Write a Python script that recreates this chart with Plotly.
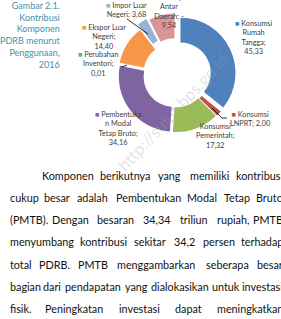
import plotly.graph_objects as go

# ---------------- data ----------------
categories = ["Konsumsi Rumah Tangga", "Konsumsi LNPRT", "Konsumsi Pemerintah",
              "Pembentukan Modal Tetap Bruto", "Perubahan Inventori",
              "Ekspor Luar Negeri", "Impor Luar Negeri", "Net Ekspor Antar Daerah"]
values = [45.33, 2.00, 17.32, 34.16, 0.01, 14.40, 3.68, -9.54]
label_names = ["Konsumsi<br>Rumah<br>Tangga;", "Konsumsi<br>LNPRT;", "Konsumsi<br>Pemerintah;",
               "Pembentuka<br>n Modal<br>Tetap Bruto;", "Perubahan<br>Inventori;",
               "Ekspor Luar<br>Negeri;", "Impor Luar<br>Negeri;", "Net Ekspor<br>Antar<br>Daerah;"]
value_sep = ["<br>", " ", "<br>", "<br>", "<br>", "<br>", " ", " "]
show_key = [True, True, False, True, True, True, True, True]

title_text = "Gambar 2.1.<br>Kontribusi<br>Komponen<br>PDRB menurut<br>Penggunaan,<br>2016"
body_lines = [
    "Komponen berikutnya yang memiliki kontribusi",
    "cukup besar adalah Pembentukan Modal Tetap Bruto",
    "(PMTB). Dengan besaran 34,34 triliun rupiah, PMTB",
    "menyumbang kontribusi sekitar 34,2 persen terhadap",
    "total PDRB. PMTB menggambarkan seberapa besar",
    "bagian dari pendapatan yang dialokasikan untuk investasi",
    "fisik. Peningkatan investasi dapat meningkatkan",
]
watermark = "http://sulut.bps.go.id"

# ---------------- style / layout ----------------
W_PX, H_PX = 281, 319
colors = ["#4F81BD", "#C0504D", "#9BBB59", "#8064A2", "#4BACC6", "#F79646", "#95B3D7", "#D99694"]
pulls = [0.09, 0.05, 0.04, 0.05, 0.04, 0.05, 0.15, 0.12]
label_pos = [(253, 37), (250, 119), (215, 136), (118, 128), (98, 64), (104, 37), (126, 10), (169, 12)]
FONT = "Lato, 'Open Sans', sans-serif"


def px(x):
    return x / W_PX


def py(y):
    return 1 - y / H_PX


# pie geometry: center & radius in pixels
cx, cy, r = 176, 75, 55
half_box = r * (1 + max(pulls))

fig = go.Figure(go.Pie(
    labels=categories,
    values=[abs(v) for v in values],
    hole=0.55,
    sort=False,
    direction="clockwise",
    rotation=0,
    pull=pulls,
    marker=dict(colors=colors, line=dict(width=0)),
    textinfo="none",
    hoverinfo="label+value",
    showlegend=False,
    domain=dict(x=[px(cx - half_box), px(cx + half_box)],
                y=[py(cy + half_box), py(cy - half_box)]),
))

annotations = []

# watermark
annotations.append(dict(x=px(172), y=py(112), xref="paper", yref="paper", text=watermark,
                        showarrow=False, textangle=-47,
                        font=dict(family=FONT, size=17, color="rgba(160,160,160,0.30)")))

# data labels
for name, v, sep, key, col, (lx, ly) in zip(label_names, values, value_sep, show_key, colors, label_pos):
    num = f"{abs(v):.2f}".replace(".", ",")
    if v < 0:
        txt = name + " -<br>" + num
    else:
        txt = name + sep + num
    if key:
        txt = f'<span style="color:{col}">■</span> ' + txt
    annotations.append(dict(x=px(lx), y=py(ly), xref="paper", yref="paper", text=txt,
                            showarrow=False, align="center", xanchor="center", yanchor="middle",
                            font=dict(family=FONT, size=7.3, color="#404040")))

# figure caption on the left
annotations.append(dict(x=px(62), y=py(35), xref="paper", yref="paper", text=title_text,
                        showarrow=False, align="right", xanchor="right", yanchor="middle",
                        font=dict(family=FONT, size=9.0, color="#3E93AE")))

# justified body text
CW = {c: 0.51 for c in "abcdefghijklmnopqrstuvwxyz"}
CW.update({"a": .51, "b": .56, "c": .46, "d": .56, "e": .52, "f": .32, "g": .5, "h": .56, "i": .24,
           "j": .24, "k": .5, "l": .24, "m": .84, "n": .56, "o": .56, "p": .56, "r": .36, "s": .42,
           "t": .34, "u": .56, "v": .5, "w": .75, "y": .5, ",": .22, ".": .22, "(": .3, ")": .3})
BODY_FS = 10.8


def tw(s):
    return sum(CW.get(c, 0.62) for c in s) * BODY_FS


x_left, x_right = 8, 284.5
for i, line in enumerate(body_lines):
    y = 175 + i * 22.3
    x0 = 40 if i == 0 else x_left
    words = line.split()
    widths = [tw(w) for w in words]
    gap = (x_right - x0 - sum(widths)) / (len(words) - 1)
    x = x0
    for j, (w, wd) in enumerate(zip(words, widths)):
        if j == 0:
            ax, anchor = x0, "left"
        elif j == len(words) - 1:
            ax, anchor = x_right, "right"
        else:
            ax, anchor = x + wd / 2, "center"
        annotations.append(dict(x=px(ax), y=py(y), xref="paper", yref="paper", text=w,
                                showarrow=False, xanchor=anchor, yanchor="middle",
                                font=dict(family=FONT, size=BODY_FS, color="#111111")))
        x += wd + gap

# leader lines
leaders = [
    [(127, 19), (148, 34)],
    [(212, 108), (222, 118), (227, 118)],
    [(122, 67), (127, 65)],
]
shapes = []
for pts in leaders:
    path = "M " + " L ".join(f"{px(a)},{py(b)}" for a, b in pts)
    shapes.append(dict(type="path", path=path, xref="paper", yref="paper",
                       line=dict(color="#000000", width=0.8)))

fig.update_layout(
    width=W_PX, height=H_PX,
    margin=dict(l=0, r=0, t=0, b=0),
    paper_bgcolor="white", plot_bgcolor="white",
    annotations=annotations, shapes=shapes,
)

fig.write_html("out.html")
